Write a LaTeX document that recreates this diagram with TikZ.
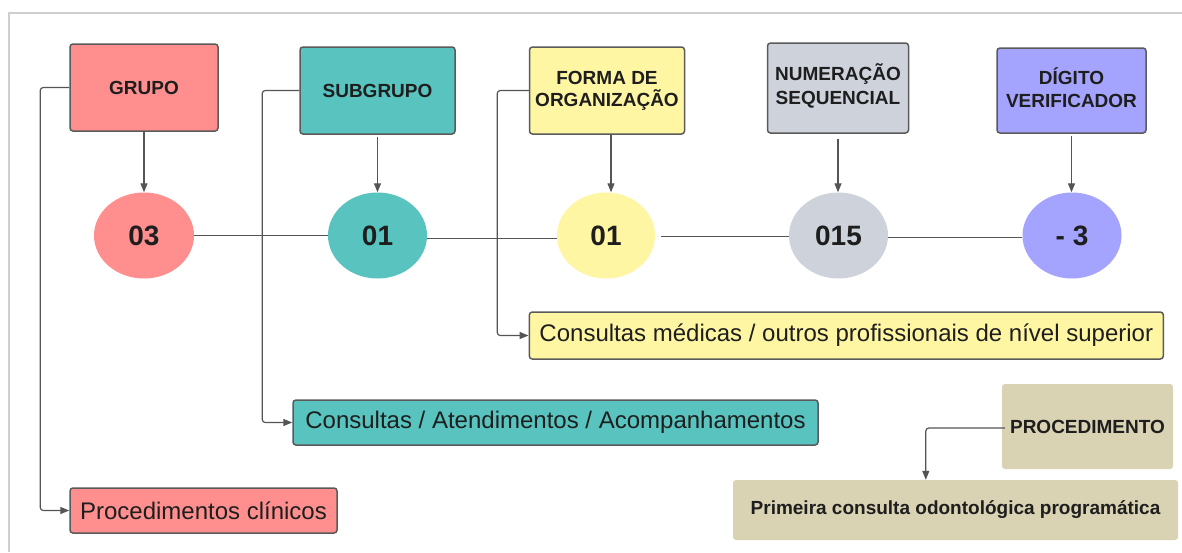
\documentclass[tikz,border=0pt]{standalone}
\usepackage{fontspec}
\setmainfont{Liberation Sans}
\usetikzlibrary{arrows.meta}
\definecolor{cred}{HTML}{FF8F8F}
\definecolor{cteal}{HTML}{58C3BF}
\definecolor{cyel}{HTML}{FFF6A3}
\definecolor{cgray}{HTML}{CED3DB}
\definecolor{cpurp}{HTML}{A4A3FE}
\definecolor{ctan}{HTML}{D9D2B3}
\definecolor{cbord}{HTML}{5A5A5A}
\definecolor{cline}{HTML}{555555}
\definecolor{ctext}{HTML}{1E1E1E}
\definecolor{cframe}{HTML}{CFCFCF}
\tikzset{
  hdr/.style={draw=cbord, line width=1.5pt, rounded corners=3pt, rectangle, inner sep=0pt,
    text=ctext, align=center, font=\fontsize{19}{22}\selectfont\bfseries},
  num/.style={ellipse, inner sep=0pt, text=ctext, font=\fontsize{28}{32}\selectfont\bfseries},
  longbox/.style={draw=cbord, line width=1.5pt, rounded corners=3pt, rectangle, inner sep=0pt,
    text=ctext, font=\fontsize{24}{28}\selectfont},
  tanbox/.style={fill=ctan, rounded corners=3pt, rectangle, inner sep=0pt,
    text=ctext, font=\fontsize{19}{22}\selectfont\bfseries},
  conn/.style={draw=cline, line width=1.2pt, rounded corners=3pt,
    -{Triangle[length=9pt,width=7pt]}},
  plainline/.style={draw=cline, line width=1.2pt},
}
\usetikzlibrary{shapes.geometric}
\begin{document}
\begin{tikzpicture}[x=1pt,y=-1pt]
\useasboundingbox (0,0) rectangle (1182,552);
\fill[white] (0,0) rectangle (1182,552);
\draw[cframe, line width=1.2pt] (9,552) -- (9,13) -- (1182,13);

% header boxes
\node[hdr, fill=cred, minimum width=148pt, minimum height=87pt] (grupo) at (144,87.5) {GRUPO};
\node[hdr, fill=cteal, minimum width=155pt, minimum height=87pt] (subgrupo) at (377.5,90.5) {SUBGRUPO};
\node[hdr, fill=cyel, minimum width=155pt, minimum height=87pt] (forma) at (607,90.5) {FORMA DE\\ORGANIZAÇÃO};
\node[hdr, fill=cgray, minimum width=141pt, minimum height=90pt] (numer) at (838,88) {NUMERAÇÃO\\[2pt]SEQUENCIAL\\[-14pt]\mbox{}};
\node[hdr, fill=cpurp, minimum width=149pt, minimum height=85pt] (digito) at (1071.5,90.5) {DÍGITO\\[1pt]VERIFICADOR\\[-17pt]\mbox{}};

% number ellipses
\node[num, fill=cred, minimum width=100pt, minimum height=86pt] (e03) at (144,235.5) {03};
\node[num, fill=cteal, minimum width=99pt, minimum height=86pt] (e01a) at (377.5,235.5) {01};
\node[num, fill=cyel, minimum width=98pt, minimum height=86pt] (e01b) at (606,235.5) {01};
\node[num, fill=cgray, minimum width=99pt, minimum height=86pt] (e015) at (838.5,235.5) {015};
\node[num, fill=cpurp, minimum width=99pt, minimum height=86pt] (e3) at (1072,235.5) {- 3};

% description boxes
\node[longbox, fill=cyel, minimum width=634pt, minimum height=47pt] (cmed) at (846.3,335.5) {Consultas médicas / outros profissionais de nível superior};
\node[longbox, fill=cteal, minimum width=525pt, minimum height=45pt] (catend) at (555.5,422.5) {Consultas / Atendimentos / Acompanhamentos};
\node[longbox, fill=cred, minimum width=267pt, minimum height=45pt] (pclin) at (203.5,510.5) {Procedimentos clínicos};

\node[tanbox, minimum width=171pt, minimum height=85pt] (proced) at (1087.5,426.5) {PROCEDIMENTO};
\node[tanbox, minimum width=445pt, minimum height=60pt] (prim) at (955.5,510) {Primeira consulta odontológica programática};

% vertical arrows
\draw[conn] (grupo.south) -- (e03.north);
\draw[conn] ([yshift=-2pt]subgrupo.south) -- (e01a.north);
\draw[conn] ([xshift=4pt]forma.south) -- ([xshift=4pt]forma.south |- e01b.north);
\draw[conn] ([yshift=-5pt]numer.south) -- (numer.south |- e015.north);
\draw[conn] ([yshift=-2pt]digito.south) -- (digito.south |- e3.north);

% horizontal links
\draw[plainline] (e03.east) -- (e01a.west);
\draw[plainline] ([yshift=-3pt]e01a.east) -- ([yshift=-3pt]e01b.west);
\draw[plainline] ([xshift=6pt,yshift=-1pt]e01b.east) -- ([yshift=-1pt]e015.west);
\draw[plainline] ([yshift=-2pt]e015.east) -- ([yshift=-2pt]e3.west);

% category connectors
\draw[conn] (grupo.west) -- ++(-29,0) |- (pclin.west);
\draw[conn] (subgrupo.west) -- ++(-37,0) |- (catend.west);
\draw[conn] (forma.west) -- ++(-31.5,0) |- (cmed.west);
\draw[conn] ([xshift=3pt,yshift=-1.5pt]proced.west) -| ([xshift=193pt]prim.north west);
\end{tikzpicture}
\end{document}
